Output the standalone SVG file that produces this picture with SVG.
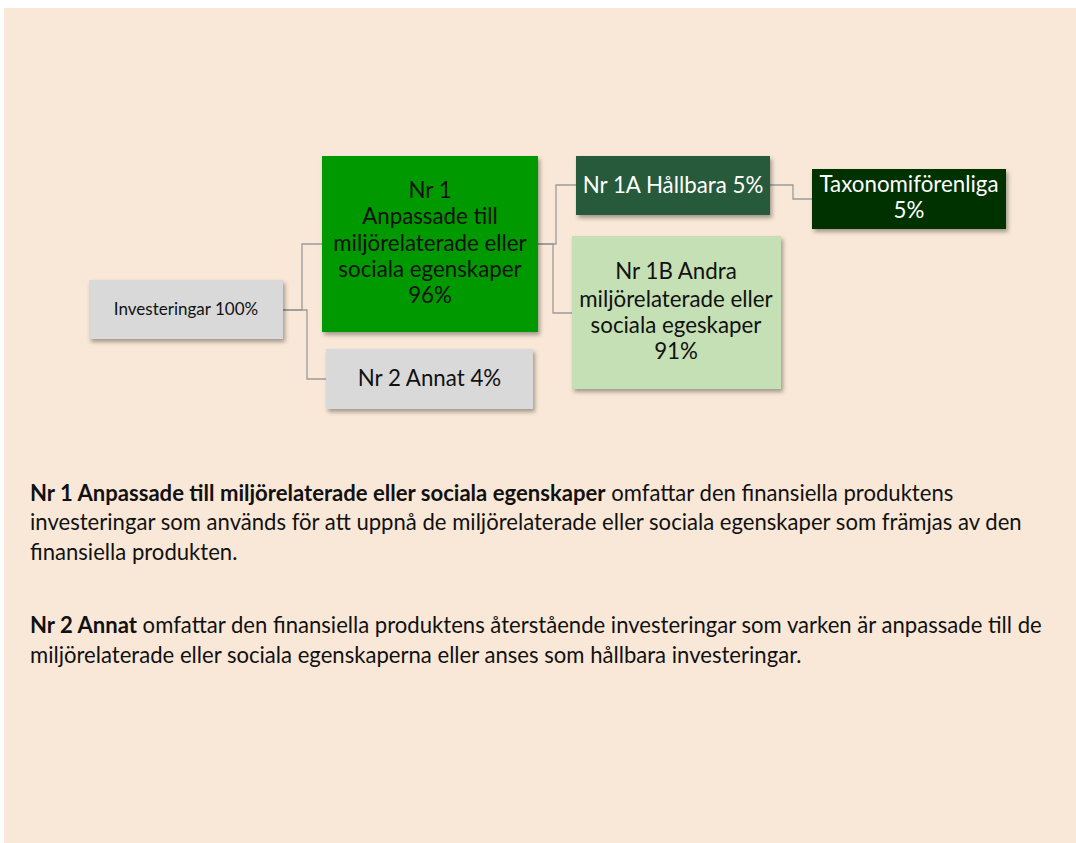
<svg xmlns="http://www.w3.org/2000/svg" width="1076" height="843" viewBox="0 0 1076 843">
<defs>
<filter id="sh" x="-10%" y="-10%" width="130%" height="140%">
<feDropShadow dx="2" dy="3" stdDeviation="2" flood-color="#000" flood-opacity="0.35"/>
</filter>
<style>
.n{font-family:Lato,"Liberation Sans",sans-serif;font-size:22.3px;text-anchor:middle;fill:#111}
.w{fill:#fff}
.b{font-family:Lato,"Liberation Sans",sans-serif;font-size:22.1px;fill:#111}
.c{fill:none;stroke:#9a9a9a;stroke-width:1.3}
</style>
</defs>
<rect x="0" y="0" width="1076" height="843" fill="#fff"/>
<rect x="4" y="8" width="1072" height="835" fill="#F9E8D7"/>
<g id="connectors">
<path class="c" d="M283 310 H302 V244 H322"/>
<path class="c" d="M283 310 H307 V379 H326"/>
<path class="c" d="M538 244 H556 V185 H576"/>
<path class="c" d="M538 244 H553 V313 H572"/>
<path class="c" d="M770 185 H793 V199 H812"/>
</g>
<g id="n0">
<rect x="89" y="280" width="194" height="59" fill="#D9D9D9" filter="url(#sh)"/>
<text class="n" x="186" y="315" style="font-size:17px">Investeringar 100%</text>
</g>
<g id="n1">
<rect x="322" y="156" width="216" height="176" fill="#009900" filter="url(#sh)"/>
<text class="n" x="430" y="198">Nr 1</text>
<text class="n" x="430" y="224">Anpassade till</text>
<text class="n" x="430" y="251">miljörelaterade eller</text>
<text class="n" x="430" y="277">sociala egenskaper</text>
<text class="n" x="430" y="303">96%</text>
</g>
<g id="n2">
<rect x="326" y="349" width="207" height="60" fill="#D9D9D9" filter="url(#sh)"/>
<text class="n" x="429.5" y="386">Nr 2 Annat 4%</text>
</g>
<g id="n1a">
<rect x="576" y="156" width="194" height="59" fill="#265A3A" filter="url(#sh)"/>
<text class="n w" x="673" y="193">Nr 1A Hållbara 5%</text>
</g>
<g id="n1b">
<rect x="572" y="236" width="209" height="153" fill="#C5E0B4" filter="url(#sh)"/>
<text class="n" x="676" y="279">Nr 1B Andra</text>
<text class="n" x="676" y="307">miljörelaterade eller</text>
<text class="n" x="676" y="333">sociala egeskaper</text>
<text class="n" x="676" y="359">91%</text>
</g>
<g id="ntax">
<rect x="812" y="169" width="194" height="60" fill="#013300" filter="url(#sh)"/>
<text class="n w" x="909" y="192">Taxonomiförenliga</text>
<text class="n w" x="909" y="218">5%</text>
</g>
<g id="legend">
<text class="b" x="30" y="501"><tspan font-weight="bold">Nr 1 Anpassade till miljörelaterade eller sociala egenskaper</tspan> omfattar den finansiella produktens</text>
<text class="b" x="30" y="530">investeringar som används för att uppnå de miljörelaterade eller sociala egenskaper som främjas av den</text>
<text class="b" x="30" y="560">finansiella produkten.</text>
<text class="b" x="30" y="633"><tspan font-weight="bold">Nr 2 Annat</tspan> omfattar den finansiella produktens återstående investeringar som varken är anpassade till de</text>
<text class="b" x="30" y="663">miljörelaterade eller sociala egenskaperna eller anses som hållbara investeringar.</text>
</g>
</svg>
